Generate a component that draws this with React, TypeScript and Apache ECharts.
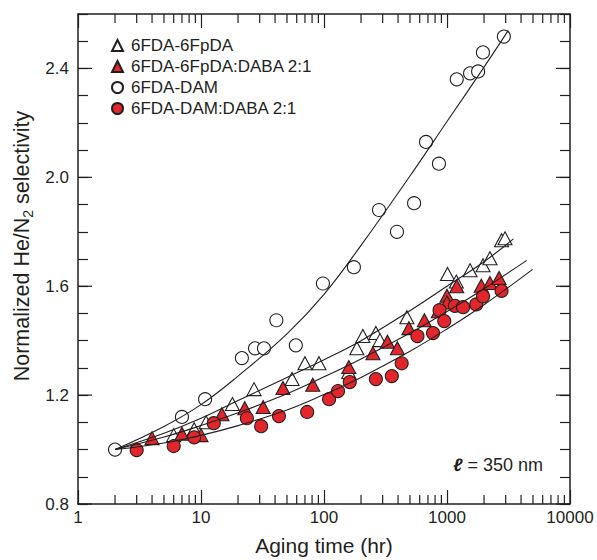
import { useEffect, useRef } from 'react';
import * as echarts from 'echarts';

// ---- Legend / series names ----
const seriesNames = ['6FDA-6FpDA', '6FDA-6FpDA:DABA 2:1', '6FDA-DAM', '6FDA-DAM:DABA 2:1'];

// ---- 6FDA-6FpDA (open triangles) ----
const fpdaX = [6, 8.8, 11, 18, 27, 55, 70, 91, 159, 185, 207, 264, 285, 472, 1010, 1190, 1540, 1963, 2235, 2777, 2962];
const fpdaY = [1.053, 1.075, 1.1, 1.167, 1.222, 1.259, 1.317, 1.317, 1.285, 1.372, 1.417, 1.428, 1.402, 1.486, 1.645, 1.617, 1.659, 1.677, 1.703, 1.769, 1.776];

// ---- 6FDA-6FpDA:DABA 2:1 (red triangles) ----
const fpdaDabaX = [4, 7, 10, 14.8, 22.7, 32, 46.4, 81, 159, 250, 328, 395, 490, 655, 850, 1000, 1000, 1200, 1900, 2235, 2650];
const fpdaDabaY = [1.042, 1.058, 1.053, 1.13, 1.152, 1.156, 1.226, 1.238, 1.303, 1.354, 1.396, 1.372, 1.446, 1.475, 1.508, 1.565, 1.54, 1.6, 1.602, 1.612, 1.63];

// ---- 6FDA-DAM (open circles) ----
const damX = [2, 7, 10.8, 21.5, 27.5, 32.5, 41, 59, 98, 175, 280, 392, 540, 675, 860, 1200, 1540, 1790, 1960, 2900];
const damY = [1.0, 1.12, 1.185, 1.336, 1.372, 1.372, 1.475, 1.383, 1.61, 1.67, 1.88, 1.8, 1.905, 2.13, 2.05, 2.36, 2.382, 2.389, 2.459, 2.517];

// ---- 6FDA-DAM:DABA 2:1 (red circles) ----
const damDabaX = [3, 6, 8.8, 12.7, 23.6, 30.8, 43, 73, 110, 130, 162, 264, 356, 428, 575, 770, 870, 950, 1160, 1350, 1730, 1963, 2777];
const damDabaY = [0.998, 1.013, 1.045, 1.097, 1.115, 1.086, 1.123, 1.138, 1.185, 1.215, 1.248, 1.259, 1.27, 1.317, 1.417, 1.428, 1.512, 1.472, 1.528, 1.523, 1.533, 1.563, 1.583];

// ---- Fit curves ----
const fitDamX = [2, 5, 10, 20, 50, 100, 200, 500, 1000, 2000, 3150];
const fitDamY = [1.0, 1.085, 1.165, 1.27, 1.425, 1.57, 1.75, 2.005, 2.205, 2.405, 2.54];
const fitFpdaX = [2, 5, 10, 20, 50, 100, 200, 500, 1000, 2000, 3470];
const fitFpdaY = [1.0, 1.06, 1.115, 1.18, 1.265, 1.33, 1.4, 1.51, 1.6, 1.69, 1.774];
const fitFpdaDabaX = [2, 5, 10, 20, 50, 100, 200, 500, 1000, 2000, 4450];
const fitFpdaDabaY = [1.0, 1.046, 1.088, 1.135, 1.205, 1.267, 1.333, 1.428, 1.507, 1.591, 1.695];
const fitDamDabaX = [2, 5, 10, 20, 50, 100, 200, 500, 1000, 2000, 4970];
const fitDamDabaY = [1.0, 1.024, 1.052, 1.088, 1.145, 1.202, 1.265, 1.361, 1.443, 1.532, 1.662];

// ---- Axis ticks ----
const xMin = 1;
const xMax = 10000;
const yMin = 0.8;
const yMax = 2.6;
const yLabelTicks = [0.8, 1.2, 1.6, 2.0, 2.4];
const xMinorTicks = [
  2, 3, 4, 5, 6, 7, 8, 9,
  20, 30, 40, 50, 60, 70, 80, 90,
  200, 300, 400, 500, 600, 700, 800, 900,
  2000, 3000, 4000, 5000, 6000, 7000, 8000, 9000,
];

const INK = '#231f20';
const RED = '#e3262b';
const FONT = '"Liberation Sans", Arial, Helvetica, sans-serif';

const zip = (xs: number[], ys: number[]) => xs.map((x, i) => [x, ys[i]]);

export default function App() {
  const ref = useRef<HTMLDivElement>(null);

  useEffect(() => {
    document.body.style.margin = '0';
    const chart = echarts.init(ref.current!, null, { renderer: 'svg' });

    const fitLine = (name: string, xs: number[], ys: number[]) => ({
      name,
      type: 'line',
      data: zip(xs, ys),
      smooth: 0.4,
      showSymbol: false,
      symbol: 'none',
      lineStyle: { color: INK, width: 1.1 },
      z: 5,
      silent: true,
    });

    const option: any = {
      animation: false,
      textStyle: { fontFamily: FONT, color: INK },
      grid: { left: 78, right: 27, top: 14, bottom: 56, containLabel: false },
      legend: {
        data: seriesNames,
        orient: 'vertical',
        left: 111,
        top: 37,
        padding: 0,
        itemWidth: 11,
        itemHeight: 11,
        itemGap: 4,
        textStyle: { fontFamily: FONT, fontSize: 17, color: INK, padding: [0, 0, 0, 3] },
        selectedMode: false,
      },
      xAxis: [
        {
          type: 'log',
          logBase: 10,
          min: xMin,
          max: xMax,
          position: 'bottom',
          axisLine: { show: true, lineStyle: { color: INK, width: 1.5 } },
          axisTick: { show: true, inside: true, length: 14, lineStyle: { color: INK, width: 1.2 } },
          axisLabel: {
            show: true,
            margin: 5,
            fontSize: 17,
            fontFamily: FONT,
            color: INK,
            formatter: (v: number) => String(Math.round(v)),
          },
          splitLine: { show: false },
        },
        {
          type: 'log',
          logBase: 10,
          min: xMin,
          max: xMax,
          position: 'top',
          axisLine: { show: true, lineStyle: { color: INK, width: 1.5 } },
          axisTick: { show: true, inside: true, length: 14, lineStyle: { color: INK, width: 1.2 } },
          axisLabel: { show: false },
          splitLine: { show: false },
        },
      ],
      yAxis: [
        {
          type: 'value',
          min: yMin,
          max: yMax,
          interval: 0.1,
          position: 'left',
          axisLine: { show: true, lineStyle: { color: INK, width: 1.5 } },
          axisTick: { show: true, inside: true, length: 10, lineStyle: { color: INK, width: 1.2 } },
          axisLabel: {
            margin: 9,
            fontSize: 17,
            fontFamily: FONT,
            color: INK,
            formatter: (v: number) => (yLabelTicks.some((t) => Math.abs(t - v) < 1e-6) ? v.toFixed(1) : ''),
          },
          splitLine: { show: false },
        },
        {
          type: 'value',
          min: yMin,
          max: yMax,
          interval: 0.1,
          position: 'right',
          axisLine: { show: true, lineStyle: { color: INK, width: 1.5 } },
          axisTick: { show: true, inside: true, length: 10, lineStyle: { color: INK, width: 1.2 } },
          axisLabel: { show: false },
          splitLine: { show: false },
        },
      ],
      series: [
        {
          name: 'xMinorTicks',
          type: 'custom',
          silent: true,
          data: xMinorTicks.map((v) => [v, yMin]),
          renderItem: (_p: any, api: any) => {
            const v = api.value(0);
            const b = api.coord([v, yMin]);
            const t = api.coord([v, yMax]);
            const st = { stroke: INK, lineWidth: 1.2 };
            return {
              type: 'group',
              children: [
                { type: 'line', shape: { x1: b[0], y1: b[1], x2: b[0], y2: b[1] - 9 }, style: st },
                { type: 'line', shape: { x1: t[0], y1: t[1], x2: t[0], y2: t[1] + 9 }, style: st },
              ],
            };
          },
          z: 3,
        },
        {
          name: 'yMajorTicks',
          type: 'custom',
          silent: true,
          data: yLabelTicks.map((v) => [xMin, v]),
          renderItem: (_p: any, api: any) => {
            const v = api.value(1);
            const l = api.coord([xMin, v]);
            const r = api.coord([xMax, v]);
            const st = { stroke: INK, lineWidth: 1.2 };
            return {
              type: 'group',
              children: [
                { type: 'line', shape: { x1: l[0], y1: l[1], x2: l[0] + 14, y2: l[1] }, style: st },
                { type: 'line', shape: { x1: r[0], y1: r[1], x2: r[0] - 14, y2: r[1] }, style: st },
              ],
            };
          },
          z: 3,
        },
        {
          name: seriesNames[0],
          type: 'scatter',
          data: zip(fpdaX, fpdaY),
          symbol: 'triangle',
          symbolSize: [14, 13],
          itemStyle: { color: '#ffffff', borderColor: INK, borderWidth: 1.1, opacity: 1 },
          z: 2,
        },
        {
          name: seriesNames[1],
          type: 'scatter',
          data: zip(fpdaDabaX, fpdaDabaY),
          symbol: 'triangle',
          symbolSize: [14, 13],
          itemStyle: { color: RED, borderColor: INK, borderWidth: 1.1, opacity: 1 },
          z: 2,
        },
        {
          name: seriesNames[2],
          type: 'scatter',
          data: zip(damX, damY),
          symbol: 'circle',
          symbolSize: 13,
          itemStyle: { color: '#ffffff', borderColor: INK, borderWidth: 1.1, opacity: 1 },
          z: 2,
        },
        {
          name: seriesNames[3],
          type: 'scatter',
          data: zip(damDabaX, damDabaY),
          symbol: 'circle',
          symbolSize: 13,
          itemStyle: { color: RED, borderColor: INK, borderWidth: 1.1, opacity: 1 },
          z: 2,
        },
        fitLine('fitDam', fitDamX, fitDamY),
        fitLine('fitFpda', fitFpdaX, fitFpdaY),
        fitLine('fitFpdaDaba', fitFpdaDabaX, fitFpdaDabaY),
        fitLine('fitDamDaba', fitDamDabaX, fitDamDabaY),
      ],
      graphic: [
        {
          type: 'text',
          x: 22,
          y: 246,
          rotation: Math.PI / 2,
          style: {
            text: 'Normalized He/N{sub|2} selectivity',
            fontFamily: FONT,
            fontSize: 21.5,
            lineHeight: 26,
            fill: INK,
            align: 'center',
            verticalAlign: 'middle',
            rich: {
              sub: { fontFamily: FONT, fontSize: 14, lineHeight: 14, verticalAlign: 'bottom', fill: INK },
            },
          },
        },
        {
          type: 'text',
          x: 324,
          y: 545,
          style: {
            text: 'Aging time (hr)',
            fontFamily: FONT,
            fontSize: 21,
            fill: INK,
            align: 'center',
            verticalAlign: 'middle',
          },
        },
        {
          type: 'text',
          x: 543,
          y: 465,
          style: {
            text: '{l|ℓ} = 350 nm',
            fontFamily: FONT,
            fontSize: 18,
            fill: INK,
            align: 'right',
            verticalAlign: 'middle',
            rich: {
              l: { fontFamily: FONT, fontSize: 18, fontStyle: 'italic', fontWeight: 'bold', fill: INK },
            },
          },
        },
      ],
    };

    chart.setOption(option);
    return () => chart.dispose();
  }, []);

  return <div ref={ref} style={{ width: 597, height: 560 }} />;
}
